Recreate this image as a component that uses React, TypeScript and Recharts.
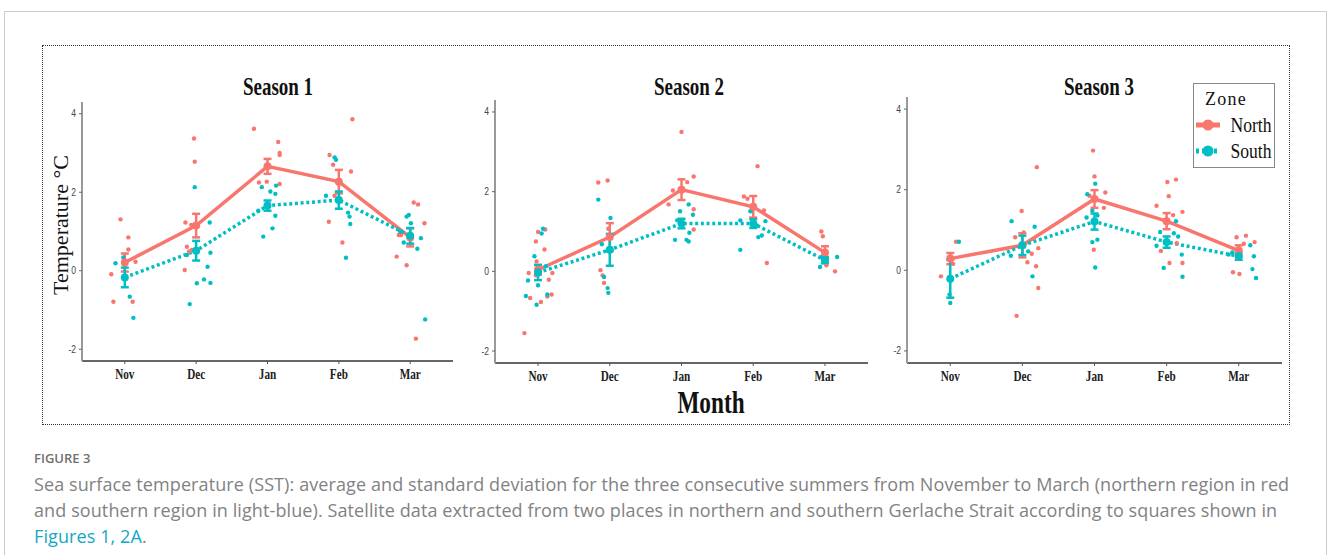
import { ComposedChart, Line, Scatter, XAxis, YAxis, ErrorBar } from 'recharts';

const NORTH = '#F8766D';
const SOUTH = '#00BFC4';
const SERIF = '"Liberation Serif", "DejaVu Serif", serif';

const months = ['Nov', 'Dec', 'Jan', 'Feb', 'Mar'];
const seasons = ['Season 1', 'Season 2', 'Season 3'];
const zones = ['North', 'South'];
const yTicks = [-2, 0, 2, 4];

// monthly mean SST and standard deviation, Nov..Mar
const s1NorthMean = [0.21, 1.15, 2.66, 2.27, 0.85];
const s1NorthSd = [0.23, 0.3, 0.19, 0.3, 0.23];
const s1SouthMean = [-0.17, 0.51, 1.66, 1.8, 0.89];
const s1SouthSd = [0.25, 0.25, 0.13, 0.22, 0.2];

const s2NorthMean = [0.04, 0.86, 2.05, 1.62, 0.47];
const s2NorthSd = [0.12, 0.35, 0.26, 0.27, 0.16];
const s2SouthMean = [-0.03, 0.54, 1.2, 1.2, 0.28];
const s2SouthSd = [0.19, 0.4, 0.12, 0.11, 0.08];

const s3NorthMean = [0.29, 0.62, 1.77, 1.22, 0.49];
const s3NorthSd = [0.14, 0.3, 0.22, 0.2, 0.13];
const s3SouthMean = [-0.21, 0.62, 1.21, 0.7, 0.35];
const s3SouthSd = [0.47, 0.24, 0.2, 0.14, 0.09];

// raw values: [month index, jitter, value]
const s1NorthPts = [
  [0, -0.19, -0.09], [0, -0.06, 1.31], [0, 0.05, 0.85], [0, 0.05, 0.54], [0, 0.15, 0.23], [0, -0.16, -0.79], [0, 0.11, -0.79],
  [1, -0.03, 3.37], [1, -0.02, 2.78], [1, -0.15, 1.23], [1, -0.07, 1.17], [1, -0.13, 0.61], [1, -0.1, 0.49], [1, -0.16, 0.02], [1, -0.06, 0.53],
  [2, -0.19, 3.62], [2, 0.15, 3.28], [2, 0.17, 3.0], [2, 0.17, 2.95], [2, -0.12, 2.25], [2, -0.01, 2.27], [2, 0.17, 2.21],
  [3, -0.13, 2.95], [3, -0.08, 2.7], [3, 0.19, 3.86], [3, 0.17, 2.53], [3, -0.14, 1.25], [3, 0.05, 0.72], [3, -0.06, 1.91],
  [4, -0.19, 0.36], [4, -0.05, 0.14], [4, 0.08, -1.73], [4, 0.05, 1.74], [4, 0.11, 1.69], [4, 0.2, 1.21], [4, -0.16, 0.91], [4, -0.13, 0.91],
];
const s1SouthPts = [
  [0, -0.13, 0.19], [0, -0.02, 0.34], [0, 0.07, -0.66], [0, 0.12, -1.2],
  [1, -0.02, 2.13], [1, -0.09, -0.85], [1, 0.01, -0.32], [1, 0.11, -0.22], [1, 0.2, -0.31], [1, 0.16, 0.1], [1, 0.2, 0.46], [1, 0.19, 1.23], [1, -0.13, 0.4],
  [2, -0.06, 0.87], [2, 0.07, 1.08], [2, 0.11, 1.4], [2, 0.12, 2.17], [2, 0.11, 1.96], [2, -0.08, 2.13], [2, -0.13, 1.53], [2, 0.04, 2.02],
  [3, -0.06, 2.89], [3, -0.04, 2.83], [3, -0.18, 1.91], [3, 0.1, 0.33], [3, 0.16, 1.19], [3, 0.13, 1.48], [3, 0.15, 1.38],
  [4, 0.21, -1.24], [4, 0.15, 0.83], [4, 0.1, 0.56], [4, -0.05, 1.38], [4, -0.02, 1.42], [4, -0.09, 0.72], [4, 0.01, 1.21], [4, -0.14, 1.0],
];
const s2NorthPts = [
  [0, -0.19, -1.55], [0, -0.11, -0.67], [0, 0.04, -0.77], [0, 0.13, -0.63], [0, 0.19, -0.58], [0, 0.15, -0.21], [0, 0.2, -0.04],
  [0, -0.13, -0.04], [0, -0.03, -0.1], [0, -0.02, 0.25], [0, -0.03, 0.75], [0, 0, 0.99], [0, 0.1, 1.05], [0, 0.09, 0.55],
  [1, -0.16, 2.23], [1, -0.03, 2.28], [1, -0.13, 0.03], [1, -0.08, -0.29], [1, -0.02, 1.07], [1, -0.1, -0.1],
  [2, 0, 3.5], [2, 0.17, 2.38], [2, 0.08, 2.24], [2, -0.12, 2.03], [2, -0.18, 1.68], [2, 0.17, 1.56], [2, 0.17, 1.05],
  [3, 0.06, 2.64], [3, -0.13, 1.88], [3, -0.08, 1.82], [3, 0.15, 1.53], [3, 0.19, 0.21],
  [4, -0.05, 1.0], [4, -0.03, 0.88], [4, 0.14, 0.0], [4, 0.02, 0.15],
];
const s2SouthPts = [
  [0, 0.07, 1.07], [0, 0.05, 0.95], [0, -0.05, 0.38], [0, -0.14, -0.23], [0, -0.17, -0.62], [0, -0.02, -0.84], [0, 0, -0.35], [0, 0.13, -0.58], [0, 0.11, 0.13],
  [1, -0.16, 1.8], [1, 0.01, 1.34], [1, -0.11, 0.68], [1, -0.08, -0.14], [1, -0.03, -0.42], [1, -0.02, -0.54],
  [2, -0.09, 0.79], [2, 0.07, 0.79], [2, 0.1, 0.75], [2, 0.11, 0.97], [2, 0.16, 1.42], [2, 0.1, 1.68], [2, -0.02, 1.51], [2, -0.06, 1.28],
  [3, -0.18, 0.54], [3, -0.18, 1.28], [3, -0.04, 1.51], [3, 0.07, 0.86], [3, 0.12, 0.9], [3, 0.17, 1.26], [3, 0.05, 1.15],
  [4, 0.17, 0.36], [4, -0.07, 0.11], [4, 0.02, 0.3], [4, -0.05, 0.36],
];
const s3NorthPts = [
  [0, -0.13, -0.15], [0, 0.08, 0.71], [0, 0.04, 0.16],
  [1, -0.01, 1.47], [1, -0.1, 0.82], [1, 0.02, 0.94], [1, 0.2, 2.56], [1, -0.08, -1.13], [1, 0.13, 0.41], [1, 0.07, 0.2], [1, 0.19, 0.1], [1, 0.22, -0.44], [1, 0.22, 0.55],
  [2, -0.02, 2.97], [2, 0, 2.33], [2, 0.15, 1.93], [2, 0.13, 1.55], [2, -0.07, 1.85], [2, -0.01, 0.51],
  [3, -0.14, 1.6], [3, 0.01, 2.19], [3, 0.13, 2.25], [3, 0.03, 1.84], [3, 0.22, 1.45], [3, -0.08, 0.48], [3, 0.04, 0.18], [3, 0.22, 0.18], [3, 0.14, 0.67], [3, 0.09, 1.37],
  [4, -0.03, 0.82], [4, 0.1, 0.86], [4, 0.22, 0.7], [4, -0.08, -0.05], [4, 0.01, -0.09], [4, -0.01, 0.29], [4, 0.07, 0.66],
];
const s3SouthPts = [
  [0, 0.12, 0.71], [0, -0.01, -0.6], [0, 0, -0.81],
  [1, -0.15, 1.22], [1, 0.17, 1.08], [1, -0.16, 0.36], [1, 0.14, -0.15], [1, 0.08, 0.47],
  [2, 0.01, 2.15], [2, -0.1, 1.89], [2, -0.11, 1.31], [2, -0.03, 1.48], [2, -0.03, 0.7], [2, 0.04, 0.76], [2, 0.01, 0.07], [2, 0.04, 1.36],
  [3, -0.04, 0.06], [3, -0.14, 0.61], [3, -0.09, 0.95], [3, 0.13, 1.22], [3, 0.16, 0.84], [3, 0.21, 0.39], [3, 0.22, -0.16], [3, 0.1, 0.92],
  [4, 0.21, 0.35], [4, 0.19, 0.03], [4, 0.24, -0.19], [4, 0.16, 0.62], [4, -0.09, 0.44], [4, -0.14, 0.39],
];

const toLine = (mean: number[], sd: number[]) => mean.map((v, i) => ({ x: i, y: v, err: sd[i] }));
const toPts = (pts: number[][]) => pts.map(([m, j, v]) => ({ x: m + j, y: v }));

const panelData = [
  { north: toLine(s1NorthMean, s1NorthSd), south: toLine(s1SouthMean, s1SouthSd), np: toPts(s1NorthPts), sp: toPts(s1SouthPts) },
  { north: toLine(s2NorthMean, s2NorthSd), south: toLine(s2SouthMean, s2SouthSd), np: toPts(s2NorthPts), sp: toPts(s2SouthPts) },
  { north: toLine(s3NorthMean, s3NorthSd), south: toLine(s3SouthMean, s3SouthSd), np: toPts(s3NorthPts), sp: toPts(s3SouthPts) },
];

// layout of each facet (chart box) and its title centre
const boxes = [
  { left: 52, top: 102, width: 401, height: 289, title: 278 },
  { left: 465, top: 100, width: 403, height: 293, title: 689 },
  { left: 877, top: 97, width: 405, height: 296, title: 1099 },
];

const XTick = (props: any) => {
  const { x, y, payload } = props;
  return (
    <text
      transform={`translate(${x},${y + 13}) scale(0.8,1)`}
      textAnchor="middle"
      fontFamily={SERIF}
      fontWeight="bold"
      fontSize={14}
      fill="#222"
    >
      {months[payload.value]}
    </text>
  );
};

const YTick = (props: any) => {
  const { x, y, payload } = props;
  return (
    <text
      transform={`translate(${x - 1},${y + 3.5}) scale(0.85,1)`}
      textAnchor="end"
      fontFamily='"Liberation Sans", Arial, sans-serif'
      fontSize={10}
      fill="#444"
    >
      {payload.value}
    </text>
  );
};

const jitterDot = (color: string) => (p: any) => <circle cx={p.cx} cy={p.cy} r={2.2} fill={color} />;

function Panel({ idx }: { idx: number }) {
  const b = boxes[idx];
  const d = panelData[idx];
  return (
    <div style={{ position: 'absolute', left: b.left, top: b.top }}>
      <ComposedChart width={b.width} height={b.height} margin={{ top: 0, right: 0, bottom: 0, left: 0 }}>
        <XAxis
          type="number"
          dataKey="x"
          domain={[-0.6, 4.6]}
          ticks={[0, 1, 2, 3, 4]}
          interval={0}
          allowDataOverflow
          height={30}
          tick={<XTick />}
          tickSize={3}
          tickLine={{ stroke: '#555' }}
          axisLine={{ stroke: '#333', strokeWidth: 1.5 }}
        />
        <YAxis
          type="number"
          dataKey="y"
          domain={[-2.3, 4.3]}
          ticks={yTicks}
          interval={0}
          allowDataOverflow
          width={30}
          tick={<YTick />}
          tickSize={3}
          tickLine={{ stroke: '#666' }}
          axisLine={{ stroke: '#999', strokeWidth: 2 }}
        />
        <Scatter data={d.np} fill={NORTH} shape={jitterDot(NORTH)} isAnimationActive={false} />
        <Scatter data={d.sp} fill={SOUTH} shape={jitterDot(SOUTH)} isAnimationActive={false} />
        <Line
          data={d.north}
          dataKey="y"
          stroke={NORTH}
          strokeWidth={3.5}
          dot={{ r: 4, fill: NORTH, stroke: NORTH, strokeWidth: 0 }}
          activeDot={false}
          isAnimationActive={false}
        >
          <ErrorBar dataKey="err" direction="y" width={4} stroke={NORTH} strokeWidth={2.5} />
        </Line>
        <Line
          data={d.south}
          dataKey="y"
          stroke={SOUTH}
          strokeWidth={3.5}
          strokeDasharray="3 2.7"
          dot={{ r: 4, fill: SOUTH, stroke: SOUTH, strokeWidth: 0, strokeDasharray: '0' }}
          activeDot={false}
          isAnimationActive={false}
        >
          <ErrorBar dataKey="err" direction="y" width={4} stroke={SOUTH} strokeWidth={2.5} />
        </Line>
      </ComposedChart>
    </div>
  );
}

const centered = (left: number, top: number, extra: string = ''): React.CSSProperties => ({
  position: 'absolute',
  left,
  top,
  whiteSpace: 'nowrap',
  transform: `translate(-50%, -50%) ${extra}`,
});

function LegendKey({ color, dashed }: { color: string; dashed?: boolean }) {
  return (
    <svg width={24} height={14} style={{ display: 'block' }}>
      <line x1={0} y1={7} x2={24} y2={7} stroke={color} strokeWidth={5} strokeDasharray={dashed ? '3 3' : undefined} />
      <circle cx={12} cy={7} r={5.5} fill={color} />
    </svg>
  );
}

export default function App() {
  return (
    <div style={{ position: 'absolute', left: 0, top: 0, width: 1328, height: 555, overflow: 'hidden', background: '#fff' }}>
      <div style={{ position: 'absolute', left: 4, top: 11, width: 1321, height: 600, border: '1px solid #ccc' }} />
      <div style={{ position: 'absolute', left: 42, top: 45, width: 1246, height: 378, border: '1px dotted #333' }} />

      {[0, 1, 2].map((i) => (
        <Panel key={i} idx={i} />
      ))}

      {seasons.map((s, i) => (
        <div
          key={s}
          style={{ ...centered(boxes[i].title, 87, 'scaleX(0.76)'), fontFamily: SERIF, fontWeight: 'bold', fontSize: 25, color: '#111' }}
        >
          {s}
        </div>
      ))}

      <div style={{ ...centered(61, 225, 'rotate(-90deg)'), fontFamily: SERIF, fontSize: 22, color: '#111' }}>
        Temperature °C
      </div>
      <div style={{ ...centered(711, 403, 'scaleX(0.75)'), fontFamily: SERIF, fontWeight: 'bold', fontSize: 31, color: '#111' }}>
        Month
      </div>

      <div style={{ position: 'absolute', left: 1193, top: 83, width: 80, height: 83, border: '1.5px solid #888', background: '#fff' }} />
      <div style={{ ...centered(1226, 99), fontFamily: SERIF, fontSize: 18, letterSpacing: 1.2, color: '#111' }}>Zone</div>
      {zones.map((z, i) => (
        <div key={z}>
          <div style={{ position: 'absolute', left: 1196, top: 118 + i * 26 }}>
            <LegendKey color={i === 0 ? NORTH : SOUTH} dashed={i === 1} />
          </div>
          <div
            style={{
              ...centered(1251, 125 + i * 26, 'scaleX(0.8)'),
              fontFamily: SERIF,
              fontSize: 22,
              color: '#111',
            }}
          >
            {z}
          </div>
        </div>
      ))}

      <div
        style={{
          position: 'absolute',
          left: 34,
          top: 450,
          fontFamily: '"Open Sans", sans-serif',
          fontWeight: 600,
          fontSize: 13,
          lineHeight: '16px',
          color: '#707070',
        }}
      >
        FIGURE 3
      </div>
      <div
        style={{
          position: 'absolute',
          left: 34,
          top: 471,
          fontFamily: '"Open Sans", sans-serif',
          fontSize: 18,
          letterSpacing: 0.1,
          lineHeight: '26px',
          color: '#828282',
          whiteSpace: 'nowrap',
        }}
      >
        Sea surface temperature (SST): average and standard deviation for the three consecutive summers from November to March (northern region in red
        <br />
        and southern region in light-blue). Satellite data extracted from two places in northern and southern Gerlache Strait according to squares shown in
        <br />
        <span style={{ color: '#12a8c6' }}>Figures 1, 2A</span>.
      </div>
    </div>
  );
}
